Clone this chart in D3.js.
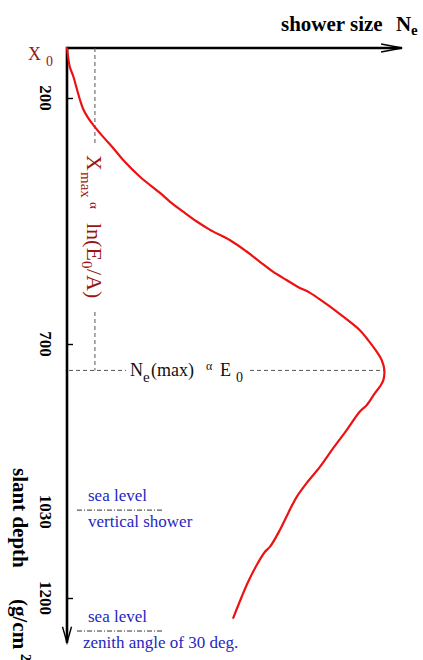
<!DOCTYPE html>
<html>
<head>
<meta charset="utf-8">
<script src="https://cdn.jsdelivr.net/npm/d3@7"></script>
<style>
  html, body { margin: 0; padding: 0; background: #fff; }
  svg { display: block; }
  text { font-family: "Liberation Serif", "DejaVu Serif", serif; }
</style>
</head>
<body>
<svg id="chart" width="423" height="660"></svg>
<script>
// ---- data (slant depth in g/cm^2, shower size in % of maximum) ----
const depth = [100, 138, 157, 184, 204, 224, 241, 255, 279, 302, 326, 360, 393, 411, 431, 451,
  468, 489, 512, 533, 553, 570, 584, 596, 614, 634, 655, 672, 692, 715, 732, 751, 771, 784,
  797, 820, 833, 869, 905, 942, 974, 1001, 1033, 1066, 1099, 1109, 1135, 1168, 1197, 1239];
const showerSize = [0, 0.9, 2.0, 3.2, 4.1, 5.2, 6.7, 8.3, 11.4, 14.6, 17.7, 23.0, 29.3, 32.5, 36.6, 40.9,
  45.1, 51.4, 56.6, 60.8, 64.9, 69.2, 72.8, 76.6, 80.7, 85.0, 89.2, 92.3, 94.9, 97.6, 99.2, 100, 99.7, 98.6,
  97.0, 94.5, 92.3, 88.2, 83.9, 79.7, 75.5, 72.4, 69.7, 67.1, 64.0, 62.4, 59.8, 57.1, 55.1, 52.4];
const tickMarks = [200, 700, 1200];
const tickLabels = ["200", "700", "1030", "1200"];
const x0Depth = 100;          // first interaction
const xmaxDepth = 752;        // depth of shower maximum
const xmaxGuideSize = 8.8;    // where vertical guide is drawn
const seaLevelDepths = [1027, 1265];
const seaLevelTexts = [["sea level", "vertical shower"], ["sea level", "zenith angle of 30 deg."]];

const svg = d3.select("#chart");
const darkRed = "#9a1515";
const blue = "#2626c0";

const x = d3.scaleLinear().domain([0, 100]).range([67, 384.3]);
const y = d3.scaleLinear().domain([100, 200, 700, 1200]).range([48, 98, 344, 598]);

const axisTop = y(x0Depth), axisLeft = x(0);
const xEnd = x(105.6), yEnd = y(1288);

// axes lines
svg.append("line").attr("x1", axisLeft).attr("y1", axisTop).attr("x2", xEnd).attr("y2", axisTop)
  .attr("stroke", "#000").attr("stroke-width", 2.6);
svg.append("line").attr("x1", axisLeft).attr("y1", axisTop - 1.3).attr("x2", axisLeft).attr("y2", yEnd)
  .attr("stroke", "#000").attr("stroke-width", 2.6);
// arrow heads
svg.append("path").attr("d", `M${xEnd - 21},${axisTop - 4} L${xEnd},${axisTop} L${xEnd - 21},${axisTop + 4}`)
  .attr("fill", "none").attr("stroke", "#000").attr("stroke-width", 1.4);
svg.append("path").attr("d", `M${axisLeft - 4.5},${yEnd - 16} L${axisLeft},${yEnd} L${axisLeft + 4.5},${yEnd - 16}`)
  .attr("fill", "none").attr("stroke", "#000").attr("stroke-width", 1.4);

// tick marks via d3 axis
const yAxis = d3.axisRight(y).tickValues(tickMarks).tickSize(6).tickFormat("");
const gAxis = svg.append("g").attr("transform", `translate(${axisLeft},0)`).call(yAxis);
gAxis.select(".domain").remove();
gAxis.selectAll(".tick line").attr("stroke", "#000").attr("stroke-width", 1.4);

// tick labels (rotated)
tickLabels.forEach(t => {
  svg.append("text")
    .attr("transform", `translate(40,${y(+t)}) rotate(90)`)
    .attr("text-anchor", "middle")
    .attr("font-weight", "bold").attr("font-size", 17)
    .text(t);
});

// axis titles
const title = svg.append("text").attr("font-weight", "bold").attr("font-size", 21);
title.append("tspan").attr("x", 281).attr("y", 31).text("shower size");
title.append("tspan").attr("x", 396).attr("y", 31).text("N");
title.append("tspan").attr("x", 411).attr("y", 35).attr("font-size", 15).text("e");

const yt = svg.append("text").attr("transform", `translate(13,468) rotate(90)`)
  .attr("font-weight", "bold").attr("font-size", 21);
yt.append("tspan").attr("x", 0).attr("y", 0).text("slant depth");
yt.append("tspan").attr("x", 131).attr("y", 0).text("(g/cm");
yt.append("tspan").attr("x", 186).attr("y", -8).attr("font-size", 14).text("2");

// X0 label
const x0t = svg.append("text").attr("fill", darkRed);
x0t.append("tspan").attr("x", 28).attr("y", 60).attr("font-size", 18).text("X");
x0t.append("tspan").attr("x", 46).attr("y", 66).attr("font-size", 14).text("0");

// guide lines (dashed)
const dash = "4,3";
const gx = x(xmaxGuideSize), gy = y(xmaxDepth);
svg.append("line").attr("x1", gx).attr("y1", axisTop).attr("x2", gx).attr("y2", 145)
  .attr("stroke", "#555").attr("stroke-width", 1).attr("stroke-dasharray", dash);
svg.append("line").attr("x1", gx).attr("y1", 312).attr("x2", gx).attr("y2", gy)
  .attr("stroke", "#555").attr("stroke-width", 1).attr("stroke-dasharray", dash);
svg.append("line").attr("x1", axisLeft + 2).attr("y1", gy).attr("x2", 126).attr("y2", gy)
  .attr("stroke", "#555").attr("stroke-width", 1).attr("stroke-dasharray", dash);
svg.append("line").attr("x1", 250).attr("y1", gy).attr("x2", x(100)).attr("y2", gy)
  .attr("stroke", "#555").attr("stroke-width", 1).attr("stroke-dasharray", dash);

// Xmax label (rotated)
const xm = svg.append("text").attr("transform", `translate(87,155) rotate(90)`).attr("fill", darkRed);
xm.append("tspan").attr("x", 0).attr("y", 0).attr("font-size", 22).text("X");
xm.append("tspan").attr("x", 17).attr("y", 6).attr("font-size", 15).text("max");
xm.append("tspan").attr("x", 47).attr("y", -3).attr("font-size", 13).text("α");
xm.append("tspan").attr("x", 68).attr("y", 0).attr("font-size", 22).text("ln(E");
xm.append("tspan").attr("x", 106).attr("y", 5).attr("font-size", 15).text("0");
xm.append("tspan").attr("x", 114).attr("y", 0).attr("font-size", 22).text("/A)");

// Ne(max) label
const nm = svg.append("text").attr("fill", "#111");
nm.append("tspan").attr("x", 130).attr("y", gy + 6).attr("font-size", 18).text("N");
nm.append("tspan").attr("x", 143).attr("y", gy + 12).attr("font-size", 15).text("e");
nm.append("tspan").attr("x", 151).attr("y", gy + 6).attr("font-size", 18).text("(max)");
nm.append("tspan").attr("x", 206).attr("y", gy + 0).attr("font-size", 12).text("α");
nm.append("tspan").attr("x", 220).attr("y", gy + 6).attr("font-size", 18).text("E");
nm.append("tspan").attr("x", 236).attr("y", gy + 12).attr("font-size", 14).text("0");

// sea level markers
seaLevelDepths.forEach((d, i) => {
  const yy = y(d);
  svg.append("line").attr("x1", 77).attr("y1", yy).attr("x2", 164).attr("y2", yy)
    .attr("stroke", "#333").attr("stroke-width", 1).attr("stroke-dasharray", "5,2,1,2");
  svg.append("text").attr("x", 88).attr("y", yy - 9).attr("fill", blue).attr("font-size", 17)
    .text(seaLevelTexts[i][0]);
  svg.append("text").attr("x", i === 0 ? 88 : 83).attr("y", yy + 17).attr("fill", blue).attr("font-size", 17)
    .text(seaLevelTexts[i][1]);
});

// shower curve
const pts = depth.map((d, i) => [showerSize[i], d]);
const line = d3.line().x(p => x(p[0])).y(p => y(p[1])).curve(d3.curveCatmullRom.alpha(0.5));
svg.append("path").datum(pts).attr("d", line)
  .attr("fill", "none").attr("stroke", "#ee1111").attr("stroke-width", 2.2)
  .attr("stroke-linejoin", "round").attr("stroke-linecap", "round");
</script>
</body>
</html>
